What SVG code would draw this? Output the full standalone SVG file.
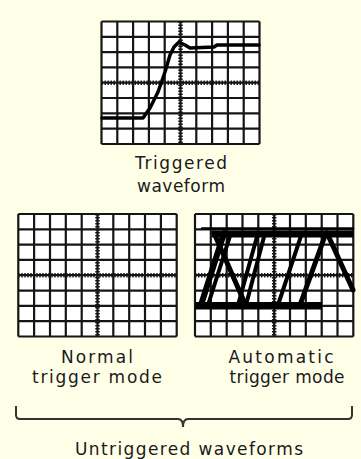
<svg xmlns="http://www.w3.org/2000/svg" width="361" height="459" viewBox="0 0 361 459">
<style>
.bg{fill:#FFFFE8}
.screen{fill:#FFFFFF}
.grid{fill:none;stroke:#151515;stroke-width:2.2}
.axis{fill:none;stroke:#151515;stroke-width:4.5;stroke-dasharray:1.4 1.6}
.trace{fill:none;stroke:#000;stroke-width:4;stroke-linejoin:round;stroke-linecap:round}
.label{font-family:"DejaVu Sans",sans-serif;font-size:17px;fill:#1a1a1a;text-anchor:middle}
.brace{fill:none;stroke:#333;stroke-width:2}
</style>
<rect class="bg" x="0" y="0" width="361" height="459"/>

<g id="triggered">
<rect class="screen" x="101.5" y="21.5" width="158" height="122.5"/>
<path class="grid" d="M101.5,21.5V144M117.3,21.5V144M133.1,21.5V144M148.9,21.5V144M164.7,21.5V144M180.5,21.5V144M196.3,21.5V144M212.1,21.5V144M227.9,21.5V144M243.7,21.5V144M259.5,21.5V144M101.5,21.5H259.5M101.5,36.8H259.5M101.5,52.1H259.5M101.5,67.4H259.5M101.5,82.7H259.5M101.5,98H259.5M101.5,113.3H259.5M101.5,128.6H259.5M101.5,144H259.5"/>
<path class="axis" d="M180.5,21.5V144M101.5,82.7H259.5"/>
<path class="trace" style="stroke-width:3.5" d="M102,118 L143,118 L150,108 L158,92 L165,72 L170,55 L174,47 L179,42 L185,45 L190,48 L214,47 L217,45 L259,45"/>
<text class="label" x="181" y="169" textLength="92" lengthAdjust="spacing">Triggered</text>
<text class="label" x="181" y="192" textLength="88" lengthAdjust="spacing">waveform</text>
</g>

<g id="normal">
<rect class="screen" x="18.3" y="214" width="158.4" height="122.5"/>
<path class="grid" d="M18.3,214V336.5M34.1,214V336.5M50,214V336.5M65.8,214V336.5M81.7,214V336.5M97.5,214V336.5M113.3,214V336.5M129.2,214V336.5M145,214V336.5M160.9,214V336.5M176.7,214V336.5M18.3,214H176.7M18.3,229.3H176.7M18.3,244.6H176.7M18.3,259.9H176.7M18.3,275.2H176.7M18.3,290.6H176.7M18.3,305.9H176.7M18.3,321.2H176.7M18.3,336.5H176.7"/>
<path class="axis" d="M97.5,214V336.5M18.3,275.2H176.7"/>
<text class="label" x="97" y="363" textLength="72" lengthAdjust="spacing">Normal</text>
<text class="label" x="97" y="383" textLength="130" lengthAdjust="spacing">trigger mode</text>
</g>

<g id="automatic">
<rect class="screen" x="195" y="214" width="158.3" height="122.5"/>
<path class="grid" d="M195,214V336.5M210.8,214V336.5M226.7,214V336.5M242.5,214V336.5M258.3,214V336.5M274.2,214V336.5M290,214V336.5M305.8,214V336.5M321.7,214V336.5M337.5,214V336.5M353.3,214V336.5M195,214H353.3M195,229.3H353.3M195,244.6H353.3M195,259.9H353.3M195,275.2H353.3M195,290.6H353.3M195,305.9H353.3M195,321.2H353.3M195,336.5H353.3"/>
<path class="axis" d="M274.2,214V336.5M195,275.2H353.3"/>
<rect x="212" y="230.5" width="141.3" height="7" fill="#000"/>
<rect x="195" y="302" width="127" height="7.5" fill="#000"/>
<path class="trace" style="stroke-width:2.5" d="M202,228.5H353"/>
<path class="trace" style="stroke-width:6" d="M201,305 L224,233"/>
<path class="trace" d="M208,305 L231,233"/>
<path class="trace" style="stroke-width:5" d="M214,233 L246,306"/>
<path class="trace" d="M238,305 L258,233"/>
<path class="trace" d="M246,305 L265,233"/>
<path class="trace" d="M278,305 L302,233"/>
<path class="trace" style="stroke-width:5" d="M300,305 L326,233"/>
<path class="trace" style="stroke-width:5" d="M327,233 L353,290"/>
<text class="label" x="281" y="363" textLength="105" lengthAdjust="spacing">Automatic</text>
<text class="label" x="287" y="383" textLength="115" lengthAdjust="spacing">trigger mode</text>
</g>

<g id="connectors">
<path class="brace" d="M16,406 V415 Q16,419 20,419 H178 Q183,419 183,427 Q183,419 188,419 H348 Q352,419 352,415 V406"/>
</g>

<g id="untriggered">
<text class="label" x="189" y="455" textLength="228" lengthAdjust="spacing">Untriggered waveforms</text>
</g>
</svg>
